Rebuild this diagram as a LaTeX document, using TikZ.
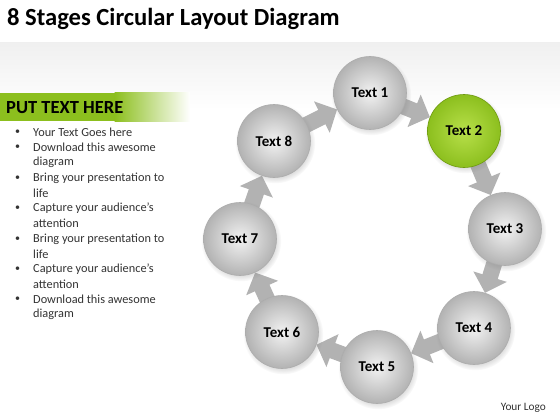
\documentclass[tikz,border=0pt]{standalone}
\usepackage{fontspec}
\setmainfont{Carlito}
\usetikzlibrary{arrows.meta,shadows}
\pgfdeclarelayer{back}
\pgfdeclarelayer{bg}
\pgfsetlayers{back,bg,main}
\definecolor{lime}{HTML}{8CBF1E}
\definecolor{limelt}{HTML}{B8E04A}
\definecolor{limedk}{HTML}{6E9A0E}
\tikzset{
  stage/.style={circle, minimum size=73pt, inner sep=0pt, draw=gray!65, line width=0.6pt,
    inner color=gray!10, outer color=gray!60, font=\fontsize{15}{17}\selectfont\bfseries,
    circular drop shadow={opacity=0.25, shadow xshift=1pt, shadow yshift=-2pt}},
  greenstage/.style={stage, draw=limedk, inner color=limelt, outer color=lime},
  flow/.style={draw=gray!60, line width=16pt, shorten <=-14pt,
    -{Triangle[width=34pt,length=17pt]}},
  bullet/.style={anchor=west, font=\fontsize{12.3}{14}\selectfont, text=black!80, inner sep=0pt},
}
\begin{document}
\begin{tikzpicture}[x=1pt,y=-1pt]
\useasboundingbox (0,0) rectangle (560,420);
\begin{pgfonlayer}{back}
\fill[white] (0,0) rectangle (560,420);
\shade[top color=gray!12, bottom color=white] (0,43) rectangle (560,110);
\end{pgfonlayer}
\node[anchor=west, font=\fontsize{24.6}{28}\selectfont\bfseries, inner sep=0pt] (title) at (7,19) {8 Stages Circular Layout Diagram};
% green bar
\fill[lime] (0,93) rectangle (115,121);
\shade[left color=lime, right color=white] (114.5,93) rectangle (190,121);
\node[anchor=west, font=\fontsize{18.5}{20}\selectfont\bfseries, inner sep=0pt] (head) at (6,107.5) {PUT TEXT HERE};
% bullets
\foreach \y/\t/\b in {132/Your Text Goes here/1, 147.5/Download this awesome/1, 162.5/diagram/0,
  178/Bring your presentation to/1, 193/life/0, 208.5/Capture your audience’s/1, 223.5/attention/0,
  239/Bring your presentation to/1, 254/life/0, 269/Capture your audience’s/1, 284/attention/0,
  299/Download this awesome/1, 314/diagram/0}{
  \node[bullet] at (33,\y) {\t};
  \ifnum\b=1 \node[bullet, font=\fontsize{10}{12}\selectfont] at (15,\y) {•}; \fi
}
\node[anchor=east, font=\fontsize{11.3}{13}\selectfont, text=black!80, inner sep=0pt] (logo) at (546,408) {Your Logo};
% stages
\node[stage] (n1) at (370,93) {Text 1};
\node[greenstage] (n2) at (464,131) {Text 2};
\node[stage] (n3) at (505,229) {Text 3};
\node[stage] (n4) at (474,328) {Text 4};
\node[stage] (n5) at (377,367) {Text 5};
\node[stage] (n6) at (282,332) {Text 6};
\node[stage] (n7) at (240,239) {Text 7};
\node[stage] (n8) at (274,141) {Text 8};
\begin{pgfonlayer}{bg}
\foreach \a/\b in {n1/n2,n2/n3,n3/n4,n4/n5,n5/n6,n6/n7,n7/n8,n8/n1}{
  \draw[flow] (\a) -- (\b);
}
\end{pgfonlayer}
\end{tikzpicture}
\end{document}
